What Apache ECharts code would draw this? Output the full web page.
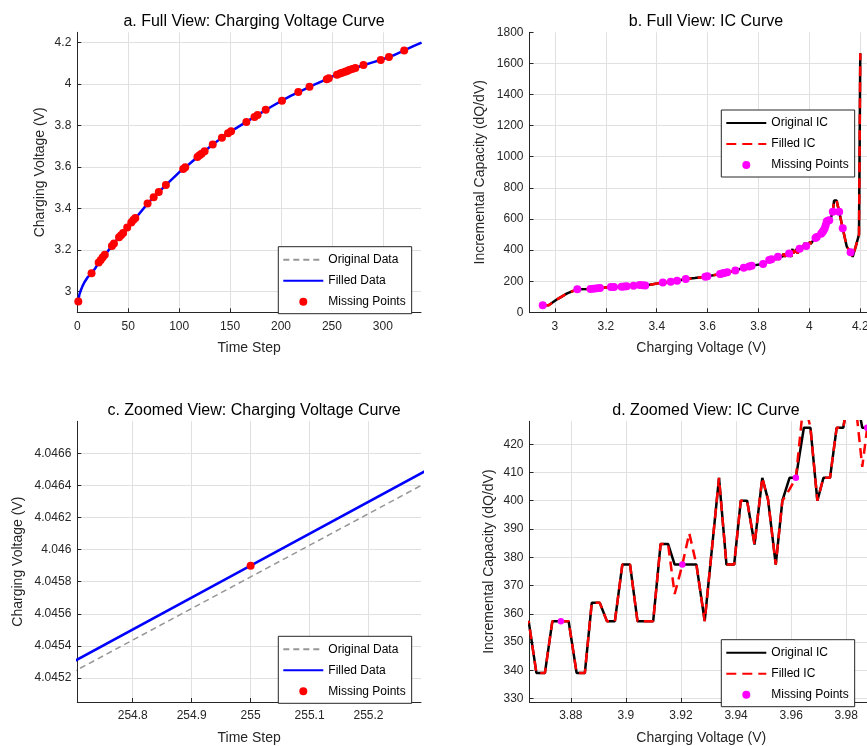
<!DOCTYPE html>
<html>
<head>
<meta charset="utf-8">
<script src="https://cdn.jsdelivr.net/npm/echarts@6/dist/echarts.min.js"></script>
<style>
html, body { margin: 0; padding: 0; background: #fff; }
#app { width: 867px; height: 746px; }
</style>
</head>
<body>
<div id="app"></div>
<script>
// charging voltage vs time step
const stepT = [1, 2, 3, 5, 7, 10, 14, 18, 21, 25,
  30, 35, 40, 45, 50, 55, 60, 70, 80, 90,
  100, 110, 120, 130, 140, 150, 160, 170, 180, 190,
  200, 210, 220, 230, 240, 250, 254, 255, 256,
  260, 270, 280, 290, 300, 310, 320, 330, 338];
const voltFilled = [2.952, 2.985, 3.000, 3.025, 3.045, 3.068, 3.088, 3.115, 3.140, 3.165,
  3.195, 3.226, 3.257, 3.282, 3.315, 3.345, 3.370, 3.430, 3.480, 3.528,
  3.575, 3.615, 3.657, 3.697, 3.735, 3.770, 3.800, 3.830, 3.860, 3.890,
  3.918, 3.945, 3.968, 3.992, 4.013, 4.036, 4.04391, 4.04590, 4.04789,
  4.055, 4.073, 4.090, 4.105, 4.120, 4.138, 4.160, 4.183, 4.200];
const voltOrig = [2.952, 2.985, 3.000, 3.025, 3.045, 3.068, 3.088, 3.115, 3.140, 3.165,
  3.195, 3.226, 3.257, 3.282, 3.315, 3.345, 3.370, 3.430, 3.480, 3.528,
  3.575, 3.615, 3.657, 3.697, 3.735, 3.770, 3.800, 3.830, 3.860, 3.890,
  3.918, 3.945, 3.968, 3.992, 4.013, 4.036, 4.04386, 4.04583, 4.04780,
  4.055, 4.073, 4.090, 4.105, 4.120, 4.138, 4.160, 4.183, 4.200];

// missing points
const missT = [1, 14, 21, 23, 25, 27, 34, 36, 41, 43,
  45, 49, 53, 55, 57, 69, 75, 80, 87, 104,
  106, 118, 120, 122, 125, 133, 142, 148, 151, 166,
  174, 177, 185, 201, 217, 228, 245, 247, 255, 258,
  260, 263, 265, 267, 270, 273, 281, 298, 306, 321];
const missV = [2.952, 3.088, 3.140, 3.152, 3.165, 3.177, 3.220, 3.232, 3.262, 3.272,
  3.282, 3.309, 3.333, 3.345, 3.355, 3.424, 3.455, 3.480, 3.514, 3.591,
  3.599, 3.649, 3.657, 3.665, 3.677, 3.709, 3.742, 3.763, 3.773, 3.818,
  3.842, 3.851, 3.8764, 3.9205, 3.9617, 3.9876, 4.024, 4.029, 4.0459, 4.051,
  4.055, 4.060, 4.064, 4.068, 4.073, 4.078, 4.092, 4.117, 4.131, 4.162];
const missIC = [45, 148, 150, 152, 155, 157, 162, 163, 164, 166,
  168, 171, 175, 174, 172, 191, 197, 203, 214, 229,
  231, 246, 249, 252, 257, 268, 287, 294, 300, 311,
  336, 341, 357.4, 377.4, 408.1, 425.8, 478, 484, 505, 515,
  525, 538, 560, 583, 588, 592, 647, 647, 540, 386];

// IC curve (dQ/dV against voltage)
const icV = [2.952, 2.975, 3.010, 3.048, 3.088, 3.140, 3.152, 3.165, 3.177, 3.220,
  3.232, 3.262, 3.272, 3.282, 3.309, 3.333, 3.345, 3.355, 3.424, 3.455,
  3.480, 3.514, 3.550, 3.591, 3.599, 3.649, 3.657, 3.665, 3.677, 3.709,
  3.742, 3.763, 3.773, 3.818, 3.835, 3.842, 3.851, 3.8575, 3.8610,
  3.8647, 3.8675, 3.8706, 3.8733, 3.8764, 3.8792, 3.8821, 3.8851, 3.8876, 3.8905,
  3.8931, 3.8960, 3.8987, 3.9015, 3.9042, 3.9099, 3.9126, 3.9153, 3.9177, 3.9205,
  3.9230, 3.9256, 3.9286, 3.9338, 3.9365, 3.9393, 3.9417, 3.9440, 3.9467, 3.9495,
  3.9516, 3.9544, 3.9568, 3.9594, 3.9617, 3.9646, 3.9670, 3.9695, 3.9717, 3.9741,
  3.9765, 3.9789, 3.9822, 3.9858, 3.9876, 3.9900,
  3.9950, 4.0000, 4.0030, 4.0060, 4.0120, 4.0180, 4.0240, 4.0290, 4.0350, 4.0400,
  4.0459, 4.0510, 4.0550, 4.0600, 4.0640, 4.0680, 4.0730, 4.0780, 4.0850, 4.0920,
  4.0970, 4.1070, 4.1170, 4.1310, 4.1470, 4.1620, 4.1700, 4.1750, 4.1820, 4.1950, 4.2000];
const icOrig = [45, 45, 85, 122, 148, 150, 152, 155, 157, 162,
  163, 164, 166, 168, 171, 175, 174, 172, 191, 197,
  203, 214, 220, 229, 231, 246, 249, 252, 257, 268,
  287, 294, 300, 311, 325, 336, 341, 339.1, 350,
  357.4, 339.1, 339.1, 357.4, 357.4, 357.4, 339.1, 339.1, 363.9, 363.9,
  357.4, 357.4, 377.4, 377.4, 357.4, 357.4, 384.7, 384.7, 377.4, 377.4,
  377.4, 377.4, 357.4, 408.1, 377.4, 377.4, 400.0, 400.0, 384.5, 408.1,
  400.4, 377.4, 400.0, 408.1, 408.1, 425.8, 425.8, 400.0, 408.1, 408.1,
  425.8, 425.8, 445.0, 425.8, 425.8, 425.8,
  432, 440, 455, 440, 452, 470, 478, 484, 495, 500,
  505, 515, 525, 538, 560, 583, 588, 592, 610, 647,
  718, 718, 647, 540, 422, 386, 357, 360, 422, 500, 1665];
const icFilled = [45, 45, 85, 122, 148, 150, 152, 155, 157, 162,
  163, 164, 166, 168, 171, 175, 174, 172, 191, 197,
  203, 214, 220, 229, 231, 246, 249, 252, 257, 268,
  287, 294, 300, 311, 325, 336, 341, 339.1, 350,
  357.4, 339.1, 339.1, 357.4, 357.4, 357.4, 339.1, 339.1, 363.9, 363.9,
  357.4, 357.4, 377.4, 377.4, 357.4, 357.4, 384.7, 384.7, 367.0, 377.4,
  388.5, 377.4, 357.4, 408.1, 377.4, 377.4, 400.0, 400.0, 384.5, 408.1,
  400.4, 377.4, 400.0, 404.0, 408.1, 436.0, 425.8, 400.0, 408.1, 408.1,
  425.8, 425.8, 445.0, 412.0, 425.8, 425.8,
  432, 440, 455, 440, 452, 470, 478, 484, 495, 500,
  505, 515, 525, 538, 560, 583, 588, 592, 610, 647,
  718, 718, 647, 540, 422, 386, 357, 360, 422, 500, 1665];

const FONT = 'Arial, "Liberation Sans", Helvetica, sans-serif';
const DARK = '#262626';

function pairs(xs, ys) {
  return xs.map((x, i) => [x, ys[i]]);
}

function axis(gridIndex, min, max, step, name, nameGap, showMin, showMax) {
  return {
    type: 'value',
    gridIndex,
    min,
    max,
    minInterval: step,
    maxInterval: step,
    name,
    nameLocation: 'middle',
    nameGap,
    nameTextStyle: { color: DARK, fontSize: 14, fontFamily: FONT },
    axisLine: { show: true, onZero: false, lineStyle: { color: DARK, width: 1 } },
    axisTick: { show: true, inside: true, length: 4, lineStyle: { color: DARK } },
    axisLabel: {
      color: DARK, fontSize: 12, fontFamily: FONT, margin: 6,
      showMinLabel: showMin, showMaxLabel: showMax,
      formatter: (v) => String(+v.toPrecision(10)),
    },
    splitLine: { show: true, showMinLine: false, showMaxLine: false, lineStyle: { color: '#e0e0e0' } },
  };
}

function xAxisAt(gridIndex, min, max, step, name, showMin) {
  const a = axis(gridIndex, min, max, step, name, 29, showMin, false);
  a.axisLabel.margin = 8;
  return a;
}

function legendAt(left, top, names) {
  return {
    orient: 'vertical',
    left,
    top,
    data: names,
    itemWidth: 40,
    itemHeight: 8,
    itemGap: 9,
    padding: [7, 6, 6, 4],
    borderColor: DARK,
    borderWidth: 1,
    borderRadius: 0,
    backgroundColor: '#fff',
    selectedMode: false,
    textStyle: { color: '#000', fontSize: 12, fontFamily: FONT, lineHeight: 8 },
    formatter: (n) => (n === 'Missing IC Points' ? 'Missing Points' : n),
  };
}

function title(text, cx, top) {
  return {
    text, left: cx, top, textAlign: 'center',
    textStyle: { color: '#000', fontSize: 16, fontWeight: 'normal', fontFamily: FONT },
  };
}

const hideDot = { opacity: 0 };

const chart = echarts.init(document.getElementById('app'));

const option = {
  animation: false,
  backgroundColor: '#fff',
  title: [
    title('a. Full View: Charging Voltage Curve', 249, 9),
    title('b. Full View: IC Curve', 701, 9),
    title('c. Zoomed View: Charging Voltage Curve', 249, 398),
    title('d. Zoomed View: IC Curve', 701, 398),
  ],
  grid: [
    { left: 77.3, top: 32.3, width: 343.7, height: 280, outerBoundsMode: 'none' },
    { left: 529.5, top: 32.3, width: 343.5, height: 280, outerBoundsMode: 'none' },
    { left: 77.3, top: 421.3, width: 343.7, height: 280.7, outerBoundsMode: 'none' },
    { left: 529.5, top: 421.3, width: 343.5, height: 280.7, outerBoundsMode: 'none' },
  ],
  xAxis: [
    xAxisAt(0, 0, 337.5, 50, 'Time Step', true),
    xAxisAt(1, 2.9, 4.25, 0.2, 'Charging Voltage (V)', false),
    xAxisAt(2, 254.706, 255.289, 0.1, 'Time Step', false),
    xAxisAt(3, 3.865, 3.9897, 0.02, 'Charging Voltage (V)', false),
  ],
  yAxis: [
    axis(0, 2.9, 4.25, 0.2, 'Charging Voltage (V)', 30, false, false),
    axis(1, 0, 1800, 200, 'Incremental Capacity (dQ/dV)', 42, true, true),
    axis(2, 4.04505, 4.0468, 0.0002, 'Charging Voltage (V)', 52, false, false),
    axis(3, 328.8, 428.1, 10, 'Incremental Capacity (dQ/dV)', 33, false, false),
  ],
  legend: [
    legendAt(278.3, 246.7, [{ name: 'Original Data', itemStyle: hideDot }, { name: 'Filled Data', itemStyle: hideDot }, 'Missing Points']),
    legendAt(721.3, 110, [{ name: 'Original IC', itemStyle: hideDot }, { name: 'Filled IC', itemStyle: hideDot }, 'Missing IC Points']),
    legendAt(278.3, 636.3, [{ name: 'Original Data', itemStyle: hideDot }, { name: 'Filled Data', itemStyle: hideDot }, 'Missing Points']),
    legendAt(721.3, 639.7, [{ name: 'Original IC', itemStyle: hideDot }, { name: 'Filled IC', itemStyle: hideDot }, 'Missing IC Points']),
  ],
  series: [],
};

// a and c: voltage curves
[0, 2].forEach((g) => {
  option.series.push(
    {
      name: 'Original Data', type: 'line', xAxisIndex: g, yAxisIndex: g,
      data: pairs(stepT, voltOrig), symbol: 'none', z: 2,
      itemStyle: { color: '#969696' },
      lineStyle: { color: '#969696', width: 1.5, type: [6, 4] },
    },
    {
      name: 'Filled Data', type: 'line', xAxisIndex: g, yAxisIndex: g,
      data: pairs(stepT, voltFilled), symbol: 'none', z: 3,
      itemStyle: { color: '#0000ff' },
      lineStyle: { color: '#0000ff', width: 2.5 },
    },
    {
      name: 'Missing Points', type: 'scatter', xAxisIndex: g, yAxisIndex: g,
      data: pairs(missT, missV), symbol: 'circle', symbolSize: 8, z: 4,
      itemStyle: { color: '#ff0000', opacity: 1 },
    }
  );
});

// b and d: IC curves
[1, 3].forEach((g) => {
  option.series.push(
    {
      name: 'Original IC', type: 'line', xAxisIndex: g, yAxisIndex: g,
      data: pairs(icV, icOrig), symbol: 'none', z: 2,
      itemStyle: { color: '#000000' },
      lineStyle: { color: '#000000', width: 2.5 },
    },
    {
      name: 'Filled IC', type: 'line', xAxisIndex: g, yAxisIndex: g,
      data: pairs(icV, icFilled), symbol: 'none', z: 3,
      itemStyle: { color: '#ff0000' },
      lineStyle: { color: '#ff0000', width: 2.5, type: [10, 6] },
    },
    {
      name: 'Missing IC Points', type: 'scatter', xAxisIndex: g, yAxisIndex: g,
      data: pairs(missV, missIC), symbol: 'circle', symbolSize: g === 1 ? 8 : 6.5, z: 4,
      itemStyle: { color: '#ff00ff', opacity: 1 },
    }
  );
});

chart.setOption(option);
</script>
</body>
</html>
